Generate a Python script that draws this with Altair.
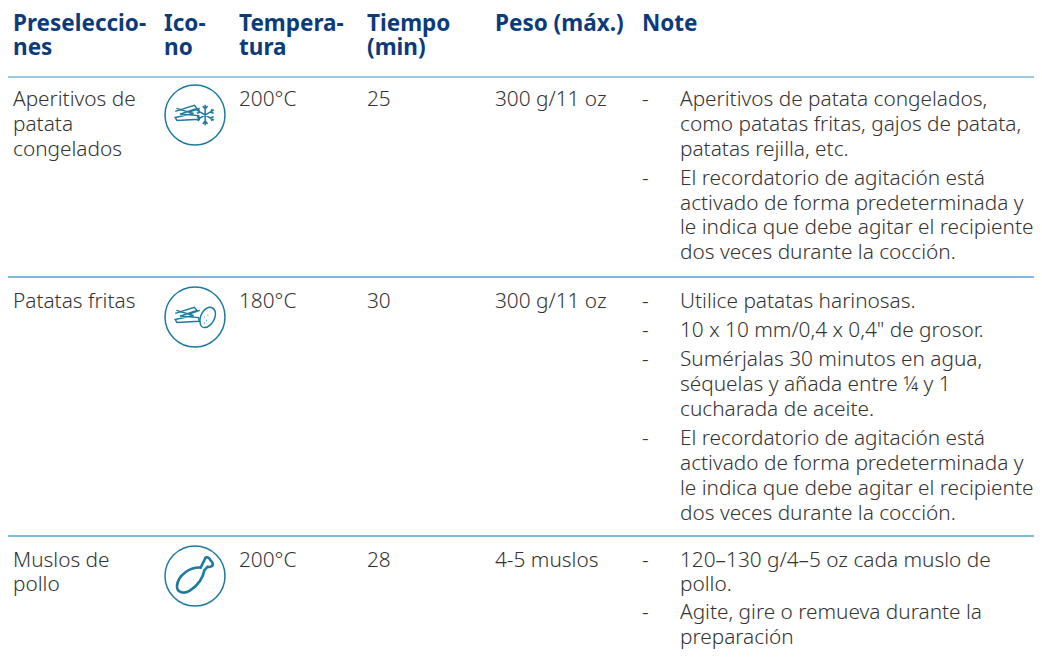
import altair as alt
import pandas as pd

W, H = 1042, 657
columns = ["pre", "icon", "temp", "time", "peso", "dash", "note"]
col_x = [13, 164, 239, 367, 495, 642, 680]
headers = {
    "pre": ["Preseleccio-", "nes"],
    "icon": ["Ico-", "no"],
    "temp": ["Tempera-", "tura"],
    "time": ["Tiempo", "(min)"],
    "peso": ["Peso (máx.)"],
    "dash": ["Note"],
}
rows_pre = [["Aperitivos de", "patata", "congelados"], ["Patatas fritas"], ["Muslos de", "pollo"]]
rows_temp = ["200°C", "180°C", "200°C"]
rows_time = ["25", "30", "28"]
rows_peso = ["300 g/11 oz", "300 g/11 oz", "4-5 muslos"]
rows_note = [
    [
        ["Aperitivos de patata congelados,", "como patatas fritas, gajos de patata,", "patatas rejilla, etc."],
        ["El recordatorio de agitación está", "activado de forma predeterminada y", "le indica que debe agitar el recipiente", "dos veces durante la cocción."],
    ],
    [
        ["Utilice patatas harinosas."],
        ["10 x 10 mm/0,4 x 0,4\" de grosor."],
        ["Sumérjalas 30 minutos en agua,", "séquelas y añada entre ¼ y 1", "cucharada de aceite."],
        ["El recordatorio de agitación está", "activado de forma predeterminada y", "le indica que debe agitar el recipiente", "dos veces durante la cocción."],
    ],
    [
        ["120–130 g/4–5 oz cada muslo de", "pollo."],
        ["Agite, gire o remueva durante la", "preparación"],
    ],
]
row_base = [106, 308, 566.5]
rule_y = [77, 277, 536]
icon_y = [115, 317, 576]
line_h = 24.8
para_gaps = [4.4, 4.4, 3.0]
header_base = 31
header_h = 24

body, head = [], []
ci = {c: i for i, c in enumerate(columns)}
for c, lines in headers.items():
    for i, t in enumerate(lines):
        head.append({"c": ci[c], "y": header_base + i * header_h, "t": t})
for r, base in enumerate(row_base):
    for i, t in enumerate(rows_pre[r]):
        body.append({"c": ci["pre"], "y": base + i * line_h, "t": t})
    body.append({"c": ci["temp"], "y": base, "t": rows_temp[r]})
    body.append({"c": ci["time"], "y": base, "t": rows_time[r]})
    body.append({"c": ci["peso"], "y": base, "t": rows_peso[r]})
    y = base
    for para in rows_note[r]:
        body.append({"c": ci["dash"], "y": y, "t": "-"})
        for t in para:
            body.append({"c": ci["note"], "y": y, "t": t})
            y += line_h
        y += para_gaps[r]

fries = ("M-.66,-.12 L-.02,-.32 L.06,-.22 L-.5,-.03 L.12,.02 L.14,.14 L-.6,.18 L-.66,.08 "
         "L-.05,-.05 L-.62,-.22 M-.2,-.1 L.16,-.22")
snow = ("M.34,-.34 L.34,.34 M.05,-.17 L.63,.17 M.05,.17 L.63,-.17 "
        "M.26,-.3 L.34,-.2 L.42,-.3 M.26,.3 L.34,.2 L.42,.3 "
        "M.06,-.06 L.16,-.09 L.11,-.2 M.06,.06 L.16,.09 L.11,.2 "
        "M.62,-.06 L.52,-.09 L.57,-.2 M.62,.06 L.52,.09 L.57,.2")
potato = ("M.17,.2 C.13,-.12 .4,-.4 .58,-.3 C.76,-.2 .68,.12 .5,.27 C.36,.4 .2,.38 .17,.2 Z "
          "M.3,.0 L.32,.0 M.38,.12 L.4,.12 M.3,.2 L.32,.2 M.42,-.06 L.44,-.06")
drum = ("M.19,-.28 C-.17,-.31 -.57,-.02 -.6,.32 C-.62,.57 -.34,.6 -.17,.49 C.11,.32 .28,.03 .31,-.19 "
        "L.42,-.31 C.5,-.28 .62,-.33 .59,-.42 C.57,-.48 .53,-.5 .51,-.53 C.5,-.62 .36,-.66 .34,-.59 "
        "C.3,-.52 .3,-.48 .28,-.47 L.19,-.28 Z")

PW, PH = W - 16, H - 16
scale_x = alt.Scale(domain=[8, W - 8], range=[0, PW])
scale_y = alt.Scale(domain=[8, H - 8], range=[0, PH])
xcol = alt.X("c:Q", scale=alt.Scale(domain=list(range(len(columns))), range=[x - 8 for x in col_x]), axis=None)
ypos = alt.Y("y:Q", scale=scale_y, axis=None)
xpos = alt.X("x:Q", scale=scale_x, axis=None)

header_layer = alt.Chart(pd.DataFrame(head)).mark_text(
    align="left", baseline="alphabetic", font="Noto Sans", fontSize=22.5, fontWeight=700, color="#0c3b7c"
).encode(x=xcol, y=ypos, text="t:N")
body_layer = alt.Chart(pd.DataFrame(body)).mark_text(
    align="left", baseline="alphabetic", font="Noto Sans", fontSize=20.8, fontWeight=300, color="#333333"
).encode(x=xcol, y=ypos, text="t:N")
rule_first = alt.Chart(pd.DataFrame({"y": rule_y[:1]})).mark_rule(strokeWidth=1, color="#3d8fc4").encode(
    x=alt.value(0), x2=alt.value(PW), y=ypos
)
rule_rest = alt.Chart(pd.DataFrame({"y": rule_y[1:]})).mark_rule(strokeWidth=2, color="#7dbbdc").encode(
    x=alt.value(0), x2=alt.value(PW), y=ypos
)

def icon(path, r, sw):
    d = pd.DataFrame({"x": [195], "y": [icon_y[r]]})
    return alt.Chart(d).mark_point(shape=path, size=3600, filled=False, stroke="#1d7a9e", strokeWidth=sw, opacity=1).encode(
        x=xpos, y=ypos
    )

circles = alt.Chart(pd.DataFrame({"x": [195] * 3, "y": icon_y})).mark_point(
    shape="circle", size=3600, filled=False, stroke="#1d7a9e", strokeWidth=1.5, opacity=1
).encode(x=xpos, y=ypos)

chart = alt.layer(
    rule_first, rule_rest, header_layer, body_layer, circles,
    icon(fries, 0, 1.5), icon(snow, 0, 1.5),
    icon(fries, 1, 1.5), icon(potato, 1, 1.5),
    icon(drum, 2, 2.6),
).resolve_scale(x="independent", y="shared").properties(
    width=PW, height=PH, padding=0, autosize=alt.AutoSizeParams(type="none"), background="white"
).configure_view(stroke=None)

chart.save("out.html", embed_options={"renderer": "svg", "actions": False})
